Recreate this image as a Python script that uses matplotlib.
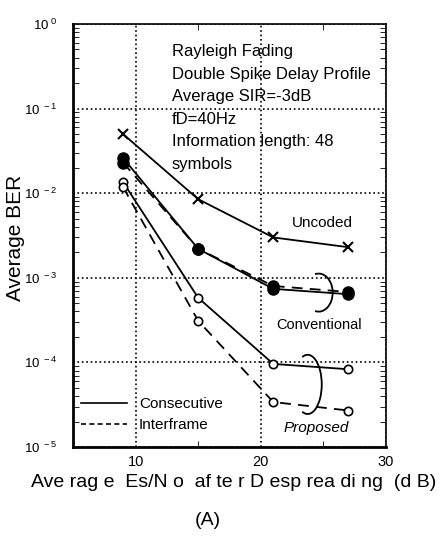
import numpy as np
import matplotlib
matplotlib.use('Agg')
import matplotlib.pyplot as plt
from matplotlib.lines import Line2D
from matplotlib.patches import Arc

plt.rcParams['font.family'] = ['Liberation Sans', 'DejaVu Sans']
plt.rcParams['mathtext.fontset'] = 'custom'
plt.rcParams['mathtext.rm'] = 'Liberation Sans'

# Es/No after despreading (dB)
snr = [9, 15, 21, 27]

# average BER
ber_uncoded = [0.050, 0.0085, 0.0030, 0.0023]
ber_conv_consec = [0.026, 0.0022, 0.00074, 0.00064]
ber_conv_inter = [0.023, 0.0022, 0.00080, 0.00068]
ber_prop_consec = [0.0135, 0.00058, 0.000096, 0.000083]
ber_prop_inter = [0.0118, 0.00031, 0.000034, 0.000027]

xticks = [10, 20, 30]
yticks = [1e-5, 1e-4, 1e-3, 1e-2, 1e-1, 1e0]
yexp = ['-5', '-4', '-3', '-2', '-1', '0']
ylabels = [r'$\mathregular{10^{\ %s}}$' % e for e in yexp]

info = ('Rayleigh Fading\nDouble Spike Delay Profile\nAverage SIR=-3dB\n'
        'fD=40Hz\nInformation length: 48\nsymbols')

fig = plt.figure(figsize=(4.4, 5.37), dpi=100)
ax = fig.add_axes([0.166, 0.1676, 0.711, 0.7877])

lw = 1.3
ax.plot(snr, ber_uncoded, '-', color='black', lw=lw, marker='x', ms=7, mew=1.5)
ax.plot(snr, ber_conv_inter, '--', color='black', lw=lw, dashes=(6, 4),
        marker='o', ms=8, mfc='black')
ax.plot(snr, ber_conv_consec, '-', color='black', lw=lw, marker='o', ms=8, mfc='black')
ax.plot(snr, ber_prop_consec, '-', color='black', lw=lw, marker='o', ms=6, mfc='white', mew=1.2)
ax.plot(snr, ber_prop_inter, '--', color='black', lw=lw, dashes=(6, 4),
        marker='o', ms=6, mfc='white', mew=1.2)

ax.set_yscale('log')
ax.set_xlim(5, 30)
ax.set_ylim(1e-5, 1)
ax.set_xticks(xticks)
ax.set_xticks([15, 25], minor=True)
ax.set_yticks(yticks)
ax.set_yticklabels(ylabels, fontsize=9.5)
ax.set_xticklabels([str(t) for t in xticks], fontsize=10.5)
ax.tick_params(which='both', direction='in', top=True, right=True)
ax.tick_params(axis='y', which='major', length=0, pad=11)
ax.tick_params(axis='x', which='major', length=0, pad=6)
ax.tick_params(axis='y', which='minor', length=4)
ax.tick_params(axis='x', which='minor', length=4)
ax.grid(True, which='major', color='black', linestyle=':', linewidth=1.2)

for s in ['left', 'bottom']:
    ax.spines[s].set_linewidth(2)
for s in ['top', 'right']:
    ax.spines[s].set_linewidth(1.2)

ax.text(12.9, 10 ** -0.24, info, fontsize=12, va='top', ha='left', linespacing=1.62)
ax.text(24.9, 0.0045, 'Uncoded', fontsize=11, ha='center', va='center')
ax.text(24.7, 2.8e-4, 'Conventional', fontsize=10.5, ha='center', va='center')
ax.text(24.4, 1.7e-5, 'Proposed', fontsize=11, ha='center', va='center', style='italic')

# brackets grouping the curve pairs
ax.add_patch(Arc((0.785, 0.365), 0.09, 0.09, theta1=-105, theta2=105,
                 transform=ax.transAxes, color='black', lw=1.3))
ax.add_patch(Arc((0.75, 0.148), 0.09, 0.14, theta1=-105, theta2=105,
                 transform=ax.transAxes, color='black', lw=1.3))

handles = [Line2D([], [], color='black', lw=1.2, ls='-'),
           Line2D([], [], color='black', lw=1.2, ls=(0, (3, 2)))]
ax.legend(handles, ['Consecutive', 'Interframe'], loc='lower left',
          bbox_to_anchor=(0.025, 0.035), frameon=False, fontsize=11,
          handlelength=3.0, handletextpad=0.8, labelspacing=0.45,
          borderpad=0, borderaxespad=0)

fig.text(0.036, 0.557, 'Average BER', rotation=90, fontsize=15, ha='center', va='center')
fig.text(0.53, 0.102, 'Ave rag e  Es/N o  af te r D esp rea di ng  (d B)', fontsize=14,
         ha='center', va='center')
fig.text(0.473, 0.03, '(A)', fontsize=14, ha='center', va='center')

fig.savefig('out.png', dpi=100)
